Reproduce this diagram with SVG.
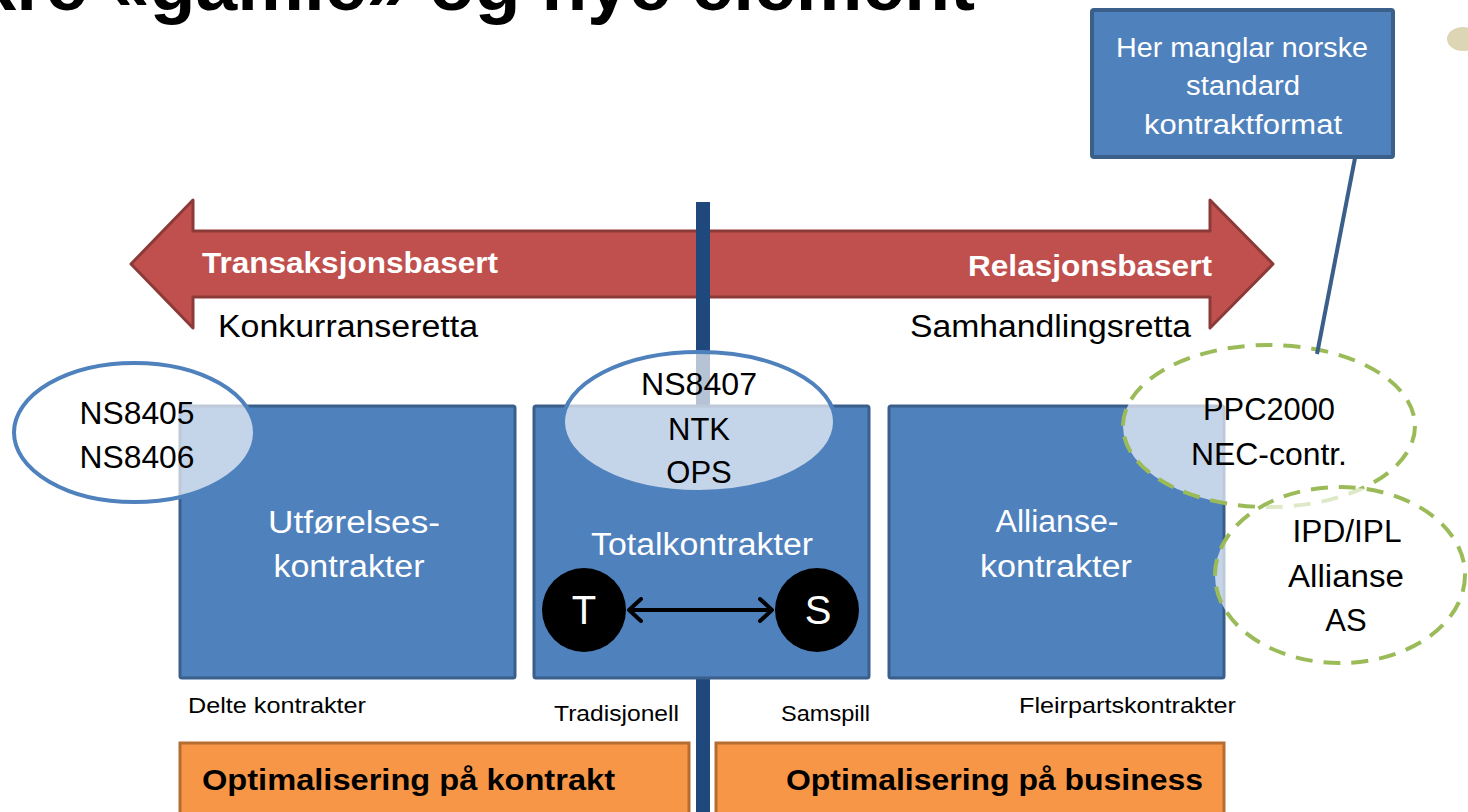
<svg xmlns="http://www.w3.org/2000/svg" width="1468" height="812" viewBox="0 0 1468 812">
<defs>
<style>
.t{font-family:"Liberation Sans",Arial,sans-serif;}
.w{fill:#FFFFFF;}
.k{fill:#000000;}
.b{font-weight:bold;}
.box{fill:#4F81BD;stroke:#3A5F8B;stroke-width:3;}
.org{fill:#F79646;stroke:#B66D31;stroke-width:3;}
.ellB{fill:#FFFFFF;fill-opacity:0.67;stroke:#4F81BD;stroke-width:4;}
.ellG{fill:#FFFFFF;fill-opacity:0.67;stroke:#9BBB59;stroke-width:4;stroke-dasharray:17 11;}
</style>
<marker id="chev" viewBox="0 0 16 26" refX="14" refY="13" markerWidth="16" markerHeight="26" markerUnits="userSpaceOnUse" orient="auto-start-reverse">
<path d="M2,2 L14,13 L2,24" fill="none" stroke="#000000" stroke-width="4" stroke-linecap="round" stroke-linejoin="round"/>
</marker>
</defs>
<rect width="1468" height="812" fill="#FFFFFF"/>

<g id="title">
<text class="t k b" x="975" y="10" font-size="75" text-anchor="end">kre «gamle» og nye element</text>
</g>

<g id="dot">
<ellipse cx="1463" cy="39" rx="16" ry="12" fill="#DCD6B4"/>
</g>

<g id="callout">
<rect x="1092" y="10" width="301" height="147" rx="2" fill="#4F81BD" stroke="#3A5F8B" stroke-width="4"/>
<text class="t w" font-size="27" text-anchor="middle" x="1242" y="57" textLength="252" lengthAdjust="spacingAndGlyphs">Her manglar norske</text>
<text class="t w" font-size="27" text-anchor="middle" x="1243" y="95" textLength="114" lengthAdjust="spacingAndGlyphs">standard</text>
<text class="t w" font-size="27" text-anchor="middle" x="1243" y="134" textLength="198" lengthAdjust="spacingAndGlyphs">kontraktformat</text>
</g>

<g id="axis-arrow">
<path d="M131,264 L193,200 L193,231 L1210,231 L1210,200 L1273,264 L1210,328 L1210,297 L193,297 L193,328 Z" fill="#C0504D" stroke="#8C3A38" stroke-width="3" stroke-linejoin="round"/>
<text class="t w b" font-size="30" x="202" y="273" textLength="296" lengthAdjust="spacingAndGlyphs">Transaksjonsbasert</text>
<text class="t w b" font-size="30" x="968" y="276" textLength="244" lengthAdjust="spacingAndGlyphs">Relasjonsbasert</text>
<text class="t k" font-size="31" x="218" y="337" textLength="260" lengthAdjust="spacingAndGlyphs">Konkurranseretta</text>
<text class="t k" font-size="31" x="910" y="337" textLength="281" lengthAdjust="spacingAndGlyphs">Samhandlingsretta</text>
</g>

<g id="divider">
<rect x="696" y="202" width="14" height="610" fill="#1F497D"/>
</g>

<g id="box-utforelse">
<rect class="box" x="180" y="406" width="335" height="272" rx="2"/>
<text class="t w" font-size="31" text-anchor="middle" x="354" y="533" textLength="172" lengthAdjust="spacingAndGlyphs">Utførelses-</text>
<text class="t w" font-size="31" text-anchor="middle" x="349" y="577" textLength="151" lengthAdjust="spacingAndGlyphs">kontrakter</text>
</g>

<g id="box-total">
<rect class="box" x="534" y="406" width="335" height="272" rx="2"/>
<text class="t w" font-size="31" text-anchor="middle" x="702" y="555" textLength="222" lengthAdjust="spacingAndGlyphs">Totalkontrakter</text>
</g>

<g id="box-allianse">
<rect class="box" x="889" y="406" width="335" height="272" rx="2"/>
<text class="t w" font-size="31" text-anchor="middle" x="1057" y="532" textLength="123" lengthAdjust="spacingAndGlyphs">Allianse-</text>
<text class="t w" font-size="31" text-anchor="middle" x="1056" y="577" textLength="152" lengthAdjust="spacingAndGlyphs">kontrakter</text>
</g>

<g id="ell-ns8405">
<ellipse class="ellB" cx="134.5" cy="432.5" rx="120.5" ry="69.5"/>
<text class="t k" font-size="31" text-anchor="middle" x="137" y="424" textLength="115" lengthAdjust="spacingAndGlyphs">NS8405</text>
<text class="t k" font-size="31" text-anchor="middle" x="137" y="468" textLength="115" lengthAdjust="spacingAndGlyphs">NS8406</text>
</g>

<g id="ell-ns8407">
<ellipse class="ellB" cx="699" cy="422" rx="136" ry="70"/>
<text class="t k" font-size="31" text-anchor="middle" x="699" y="395" textLength="116" lengthAdjust="spacingAndGlyphs">NS8407</text>
<text class="t k" font-size="31" text-anchor="middle" x="699" y="440">NTK</text>
<text class="t k" font-size="31" text-anchor="middle" x="699" y="483">OPS</text>
</g>

<g id="ell-ppc">
<ellipse class="ellG" cx="1269" cy="426" rx="146" ry="81"/>
<text class="t k" font-size="31" text-anchor="middle" x="1269" y="420" textLength="132" lengthAdjust="spacingAndGlyphs">PPC2000</text>
<text class="t k" font-size="31" text-anchor="middle" x="1269" y="465" textLength="156" lengthAdjust="spacingAndGlyphs">NEC-contr.</text>
</g>

<g id="ell-ipd">
<ellipse class="ellG" cx="1340" cy="575" rx="125" ry="88"/>
<text class="t k" font-size="31" text-anchor="middle" x="1347" y="542" textLength="109" lengthAdjust="spacingAndGlyphs">IPD/IPL</text>
<text class="t k" font-size="31" text-anchor="middle" x="1346" y="587" textLength="116" lengthAdjust="spacingAndGlyphs">Allianse</text>
<text class="t k" font-size="31" text-anchor="middle" x="1346" y="631">AS</text>
</g>

<g id="node-T">
<circle cx="584" cy="610" r="42" fill="#000000"/>
<text class="t w" font-size="40" text-anchor="middle" x="584" y="624">T</text>
</g>

<g id="node-S">
<circle cx="817" cy="610" r="42" fill="#000000"/>
<text class="t w" font-size="40" text-anchor="middle" x="818" y="624">S</text>
</g>

<g id="connectors">
<line x1="629" y1="610" x2="772" y2="610" stroke="#000000" stroke-width="4" marker-start="url(#chev)" marker-end="url(#chev)"/>
<line x1="1355" y1="158" x2="1317" y2="354" stroke="#3A5F8B" stroke-width="4"/>
</g>

<g id="bottom-labels">
<text class="t k" font-size="22" x="188" y="713" textLength="178" lengthAdjust="spacingAndGlyphs">Delte kontrakter</text>
<text class="t k" font-size="22" x="554" y="721" textLength="125" lengthAdjust="spacingAndGlyphs">Tradisjonell</text>
<text class="t k" font-size="22" x="781" y="721" textLength="89" lengthAdjust="spacingAndGlyphs">Samspill</text>
<text class="t k" font-size="22" x="1019" y="713" textLength="217" lengthAdjust="spacingAndGlyphs">Fleirpartskontrakter</text>
</g>

<g id="opt-kontrakt">
<rect class="org" x="180" y="743" width="509" height="75"/>
<text class="t k b" font-size="30" x="202" y="790" textLength="413" lengthAdjust="spacingAndGlyphs">Optimalisering på kontrakt</text>
</g>

<g id="opt-business">
<rect class="org" x="716" y="743" width="508" height="75"/>
<text class="t k b" font-size="30" x="786" y="790" textLength="417" lengthAdjust="spacingAndGlyphs">Optimalisering på business</text>
</g>
</svg>
